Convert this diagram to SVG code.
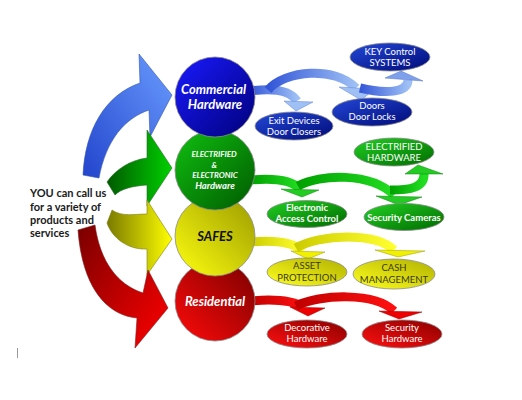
<svg xmlns="http://www.w3.org/2000/svg" width="522" height="400" viewBox="0 0 522 400">
<style>
.lbl{font-family:Lato,"Open Sans","Liberation Sans",sans-serif;text-anchor:middle}
.ci{font-weight:bold;font-style:italic;fill:#fff}
.el{font-size:9.5px;fill:#fff}
.ely{font-size:9.5px;fill:#3a3a10}
.ring{stroke:#8a8a8a;stroke-width:0.8}
.band{fill:none;stroke-width:9}
</style>
<defs>
<linearGradient id="gBlueC" x1="0" y1="0" x2="1" y2="1"><stop offset="0" stop-color="#1a1aff"/><stop offset="1" stop-color="#00007a"/></linearGradient>
<linearGradient id="gGreenC" x1="0" y1="0" x2="1" y2="1"><stop offset="0" stop-color="#10c010"/><stop offset="1" stop-color="#005a00"/></linearGradient>
<linearGradient id="gYelC" x1="0" y1="1" x2="1" y2="0"><stop offset="0" stop-color="#ffff10"/><stop offset="1" stop-color="#9a9a00"/></linearGradient>
<linearGradient id="gRedC" x1="0" y1="1" x2="1" y2="0"><stop offset="0" stop-color="#ff0a0a"/><stop offset="1" stop-color="#7a0000"/></linearGradient>
<linearGradient id="gBlueE" x1="0" y1="0" x2="1" y2="1"><stop offset="0" stop-color="#2448d8"/><stop offset="1" stop-color="#000a78"/></linearGradient>
<linearGradient id="gGreenE" x1="0" y1="0" x2="1" y2="1"><stop offset="0" stop-color="#22d022"/><stop offset="1" stop-color="#006a00"/></linearGradient>
<linearGradient id="gYelE" x1="0" y1="1" x2="1" y2="0"><stop offset="0" stop-color="#ffff20"/><stop offset="1" stop-color="#b0b000"/></linearGradient>
<linearGradient id="gRedE" x1="0" y1="1" x2="1" y2="0"><stop offset="0" stop-color="#ff1010"/><stop offset="1" stop-color="#8a0000"/></linearGradient>
<linearGradient id="gBlueA" x1="0" y1="1" x2="1" y2="0"><stop offset="0" stop-color="#2244cc"/><stop offset="1" stop-color="#6a9cff"/></linearGradient>
<linearGradient id="gGreenA" x1="0" y1="0" x2="1" y2="0"><stop offset="0" stop-color="#005a00"/><stop offset="1" stop-color="#00d000"/></linearGradient>
<linearGradient id="gYelA" x1="0" y1="0" x2="1" y2="0"><stop offset="0" stop-color="#7a7a00"/><stop offset="1" stop-color="#ffff00"/></linearGradient>
<linearGradient id="gRedA" x1="0" y1="0" x2="1" y2="1"><stop offset="0" stop-color="#7a0000"/><stop offset="1" stop-color="#ff0000"/></linearGradient>
<linearGradient id="gBlueS" x1="0" y1="0" x2="1" y2="0"><stop offset="0" stop-color="#3356d8"/><stop offset="1" stop-color="#9ec0f5"/></linearGradient>
<linearGradient id="gGreenS" x1="0" y1="0" x2="1" y2="0"><stop offset="0" stop-color="#00a000"/><stop offset="1" stop-color="#22dd22"/></linearGradient>
<linearGradient id="gYelS" x1="0" y1="0" x2="1" y2="0"><stop offset="0" stop-color="#cccc00"/><stop offset="1" stop-color="#ffff30"/></linearGradient>
<linearGradient id="gRedS" x1="0" y1="0" x2="1" y2="0"><stop offset="0" stop-color="#c00000"/><stop offset="1" stop-color="#ff1010"/></linearGradient>
</defs>

<g id="connectors">
  <path d="M83,175 C85,130 105,95 140,83 L139,54 L172,95 L150,137 L149,110 C125,118 106,140 99,178 Z" fill="url(#gBlueA)" stroke="#3355aa" stroke-width="0.6"/>
  <path d="M107,182 C115,170 130,160 147,158 L147,130 L172,168 L147,206 L147,185 C132,186 121,189 115,195 Z" fill="url(#gGreenA)" stroke="#2a6a2a" stroke-width="0.6"/>
  <path d="M112,210 C122,217 134,214 147,214 L147,200 L172,239 L147,275 L147,249 C128,250 112,238 107,223 Z" fill="url(#gYelA)" stroke="#808020" stroke-width="0.6"/>
  <path d="M78,230 C82,285 105,315 137,318 L135,348 L168,308 L148,270 L143,293 C118,285 100,262 95,225 Z" fill="url(#gRedA)" stroke="#802020" stroke-width="0.6"/>

  <path class="band" d="M250,91 C272,88 290,90 297,101" stroke="url(#gBlueS)"/>
  <polygon points="284,101 313,102 296,111" fill="#9ec0f5" stroke="#6080d0" stroke-width="0.5"/>
  <path class="band" d="M268,90 C285,70 335,66 356,88" stroke="url(#gBlueS)"/>
  <polygon points="339,87 375,89 361,100" fill="#9ec0f5" stroke="#6080d0" stroke-width="0.5"/>
  <path class="band" d="M360,88 C385,94 408,93 408,80" stroke="url(#gBlueS)" stroke-width="8"/>
  <polygon points="385,78 401,71 423,81" fill="#7fa0ea" stroke="#5070c8" stroke-width="0.5"/>

  <path class="band" d="M250,180 C272,178 292,180 300,189" stroke="url(#gGreenS)"/>
  <polygon points="281,189 319,190 302,197" fill="#22cc22" stroke="#108010" stroke-width="0.5"/>
  <path class="band" d="M298,186 C320,174 370,172 394,195" stroke="url(#gGreenS)"/>
  <polygon points="376,196 422,197 399,205" fill="#22cc22" stroke="#108010" stroke-width="0.5"/>
  <path class="band" d="M390,190 C410,190 425,188 424,173" stroke="url(#gGreenS)" stroke-width="8"/>
  <polygon points="405,174 418,165 443,174" fill="#22cc22" stroke="#108010" stroke-width="0.5"/>

  <path class="band" d="M250,242 C272,240 292,241 303,251" stroke="url(#gYelS)"/>
  <polygon points="291,251 325,252 308,259" fill="#f0f000" stroke="#9a9a00" stroke-width="0.5"/>
  <path class="band" d="M296,248 C320,234 375,232 394,250" stroke="url(#gYelS)"/>
  <polygon points="375,250 425,251 398,257" fill="#f0f000" stroke="#9a9a00" stroke-width="0.5"/>

  <path class="band" d="M250,301 C272,299 292,300 303,307" stroke="url(#gRedS)"/>
  <polygon points="290,307 325,308 308,316" fill="#ee0000" stroke="#900000" stroke-width="0.5"/>
  <path class="band" d="M296,306 C320,294 375,292 394,311" stroke="url(#gRedS)"/>
  <polygon points="379,311 422,312 399,319" fill="#ee0000" stroke="#900000" stroke-width="0.5"/>
</g>

<g id="intro">
  <text class="lbl" style="text-anchor:start;font-size:11px;font-weight:bold;fill:#1a1a1a">
    <tspan x="30" y="197">YOU can call us</tspan>
    <tspan x="30" y="211">for a variety of</tspan>
    <tspan x="30" y="224">products and</tspan>
    <tspan x="30" y="237">services</tspan>
  </text>
</g>

<g id="residential">
  <circle cx="215" cy="301" r="40" fill="url(#gRedC)" class="ring"/>
  <text class="lbl ci" x="215" y="306" font-size="13">Residential</text>
</g>
<g id="safes">
  <circle cx="215" cy="236" r="40" fill="url(#gYelC)" class="ring"/>
  <text class="lbl" x="215" y="241" font-size="13" font-weight="bold" font-style="italic" fill="#111">SAFES</text>
</g>
<g id="electrified">
  <circle cx="215" cy="170" r="40" fill="url(#gGreenC)" class="ring"/>
  <text class="lbl ci" font-size="8">
    <tspan x="215" y="157">ELECTRIFIED</tspan>
    <tspan x="215" y="167.5">&amp;</tspan>
    <tspan x="215" y="178">ELECTRONIC</tspan>
  </text>
  <text class="lbl ci" x="215" y="189" font-size="9.5">Hardware</text>
</g>
<g id="commercial">
  <circle cx="215" cy="97" r="40" fill="url(#gBlueC)" class="ring"/>
  <text class="lbl ci" font-size="13">
    <tspan x="215" y="94">Commercial</tspan>
    <tspan x="215" y="109">Hardware</tspan>
  </text>
</g>

<g id="key-control">
  <ellipse cx="390" cy="57" rx="40" ry="14" fill="url(#gBlueE)" class="ring"/>
  <text class="lbl el"><tspan x="390" y="55">KEY Control</tspan><tspan x="390" y="66">SYSTEMS</tspan></text>
</g>
<g id="doors">
  <ellipse cx="372" cy="112" rx="40" ry="14" fill="url(#gBlueE)" class="ring"/>
  <text class="lbl el"><tspan x="372" y="109">Doors</tspan><tspan x="372" y="120">Door Locks</tspan></text>
</g>
<g id="exit-devices">
  <ellipse cx="294" cy="126" rx="39" ry="14" fill="url(#gBlueE)" class="ring"/>
  <text class="lbl el"><tspan x="294" y="124">Exit Devices</tspan><tspan x="294" y="135">Door Closers</tspan></text>
</g>

<g id="electrified-hardware">
  <ellipse cx="394" cy="152" rx="40" ry="14" fill="url(#gGreenE)" class="ring"/>
  <text class="lbl el"><tspan x="394" y="150">ELECTRIFIED</tspan><tspan x="394" y="161">HARDWARE</tspan></text>
</g>
<g id="access-control">
  <ellipse cx="307" cy="214" rx="40" ry="13.5" fill="url(#gGreenE)" class="ring"/>
  <text class="lbl el" font-weight="bold"><tspan x="307" y="211">Electronic</tspan><tspan x="307" y="222">Access Control</tspan></text>
</g>
<g id="security-cameras">
  <ellipse cx="404" cy="217" rx="40" ry="13.5" fill="url(#gGreenE)" class="ring"/>
  <text class="lbl el" font-weight="bold" x="404" y="221">Security Cameras</text>
</g>

<g id="asset-protection">
  <ellipse cx="307" cy="272" rx="40" ry="14" fill="url(#gYelE)" class="ring"/>
  <text class="lbl ely"><tspan x="307" y="269">ASSET</tspan><tspan x="307" y="281">PROTECTION</tspan></text>
</g>
<g id="cash-management">
  <ellipse cx="394" cy="274" rx="41" ry="15" fill="url(#gYelE)" class="ring"/>
  <text class="lbl ely"><tspan x="394" y="271">CASH</tspan><tspan x="394" y="283">MANAGEMENT</tspan></text>
</g>

<g id="decorative-hardware">
  <ellipse cx="307" cy="334" rx="40" ry="14" fill="url(#gRedE)" class="ring"/>
  <text class="lbl el"><tspan x="307" y="331">Decorative</tspan><tspan x="307" y="342">Hardware</tspan></text>
</g>
<g id="security-hardware">
  <ellipse cx="402" cy="334" rx="40" ry="14" fill="url(#gRedE)" class="ring"/>
  <text class="lbl el"><tspan x="402" y="331">Security</tspan><tspan x="402" y="342">Hardware</tspan></text>
</g>

<line x1="17.5" y1="348" x2="17.5" y2="358" stroke="#999" stroke-width="1"/>
</svg>
